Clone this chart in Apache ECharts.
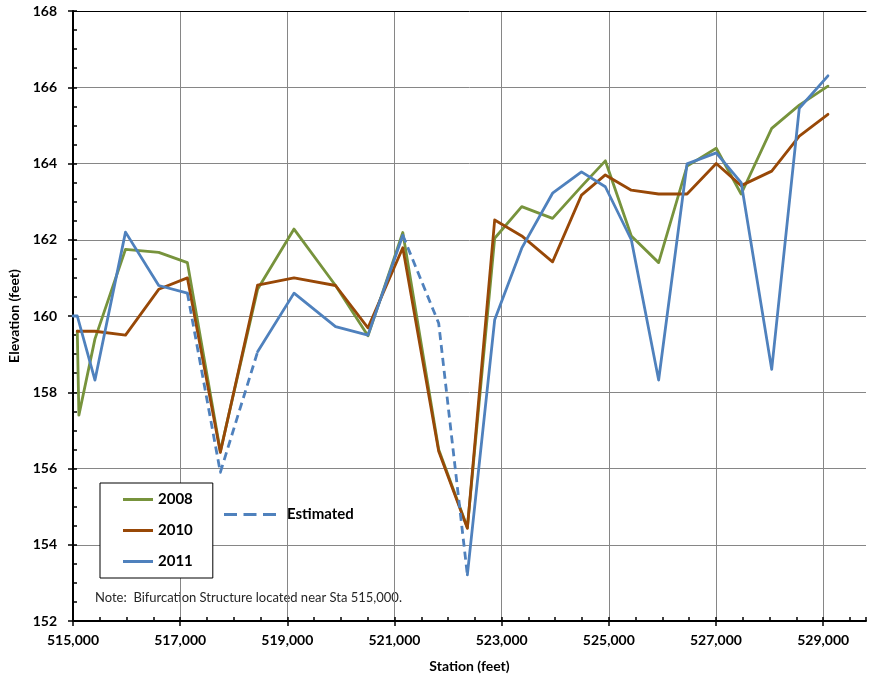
<!DOCTYPE html>
<html>
<head>
<meta charset="utf-8">
<script src="https://cdn.jsdelivr.net/npm/echarts@6/dist/echarts.min.js"></script>
<style>
  html, body { margin: 0; padding: 0; background: #fff; }
  #chart { width: 869px; height: 676px; }
</style>
</head>
<body>
<div id="chart"></div>
<script>
// Channel profile survey: thalweg elevation by station (feet)
const stations2008 = [515080, 515110, 515410, 515980, 516600, 517135, 517750, 518445, 519125, 519900, 520505, 521155, 521825, 522360, 522870, 523375, 523950, 524490, 524935, 525420, 525930, 526460, 527005, 527470, 528040, 528555, 529090];
const elev2008 = [159.6, 157.4, 159.4, 161.75, 161.67, 161.4, 156.45, 160.7, 162.28, 160.8, 159.48, 162.19, 156.5, 154.45, 162.04, 162.87, 162.56, 163.4, 164.07, 162.1, 161.4, 163.93, 164.4, 163.2, 164.92, 165.53, 166.03];

const stations2010 = [515080, 515410, 515980, 516600, 517135, 517750, 518445, 519125, 519900, 520505, 521155, 521825, 522360, 522870, 523375, 523950, 524490, 524935, 525420, 525930, 526460, 527005, 527470, 528040, 528555, 529090];
const elev2010 = [159.6, 159.6, 159.5, 160.7, 161.0, 156.42, 160.81, 161.0, 160.8, 159.69, 161.79, 156.45, 154.43, 162.52, 162.1, 161.42, 163.17, 163.7, 163.3, 163.2, 163.2, 164.0, 163.42, 163.8, 164.72, 165.29];

// 2011 survey: null where the reach was not measured
const stations2011 = [515000, 515080, 515410, 515980, 516600, 517135, 517750, 518445, 519125, 519900, 520505, 521155, 521825, 522360, 522870, 523375, 523950, 524490, 524935, 525420, 525930, 526460, 527005, 527470, 528040, 528555, 529090];
const elev2011 = [160.0, 160.0, 158.32, 162.2, 160.8, 160.6, null, 159.06, 160.6, 159.72, 159.5, 162.12, null, 153.21, 159.9, 161.78, 163.22, 163.78, 163.39, 162.0, 158.32, 163.99, 164.28, 163.5, 158.6, 165.45, 166.3];

// 2011 estimated reaches (null separates the two reaches)
const stationsEst = [517135, 517750, 518445, null, 521155, 521825, 522360];
const elevEst = [160.6, 155.9, 159.06, null, 162.12, 159.81, 153.21];

const xMin = 515000, xMax = 529800, xStep = 2000, xMinorStep = 500;
const yMin = 152, yMax = 168, yStep = 2, yMinorStep = 0.5;

const seriesNames = ['2008', '2010', '2011'];
const estName = 'Estimated';
const noteText = 'Note:  Bifurcation Structure located near Sta 515,000.';

const FONT = 'Lato, "Open Sans", sans-serif';
const C08 = '#77933C', C10 = '#984807', C11 = '#4F81BD';
const GRID = '#868686';
const LW = 2.8;

function pairs(xs, ys) {
  return xs.map((x, i) => (x == null || ys[i] == null) ? [x == null ? '-' : x, '-'] : [x, ys[i]]);
}
const fmtStation = v => Math.round(v).toLocaleString('en-US');

const chart = echarts.init(document.getElementById('chart'), null, { renderer: 'canvas' });

const lineSeries = (name, data, color, extra) => Object.assign({
  name, type: 'line', data,
  xAxisIndex: 0, yAxisIndex: 0,
  showSymbol: false, symbol: 'none',
  connectNulls: false,
  lineStyle: { color, width: LW, cap: 'round', join: 'round' },
  itemStyle: { color },
  emphasis: { disabled: true },
  animation: false
}, extra || {});

chart.setOption({
  backgroundColor: '#fff',
  animation: false,
  grid: { left: 73, top: 11, right: 3, bottom: 55, containLabel: false, outerBoundsMode: 'none' },
  xAxis: [
    {
      type: 'value', position: 'bottom', min: xMin, max: xMax, interval: xStep,
      name: 'Station (feet)', nameLocation: 'middle', nameGap: 38,
      nameTextStyle: { fontFamily: FONT, fontWeight: 'bold', fontSize: 14, color: '#000' },
      axisLine: { show: true, onZero: false, lineStyle: { color: '#000', width: 2 } },
      axisTick: { show: true, inside: false, length: 5, lineStyle: { color: '#000', width: 1.5 } },
      axisLabel: { margin: 12, fontFamily: FONT, fontWeight: 'bold', fontSize: 14, color: '#000',
                   formatter: fmtStation, showMaxLabel: false },
      splitLine: { show: true, showMinLine: false, showMaxLine: false, lineStyle: { color: GRID, width: 1 } }
    },
    {
      type: 'value', position: 'bottom', min: xMin, max: xMax, interval: xMinorStep,
      axisLine: { show: false },
      axisTick: { show: true, inside: true, length: 4, lineStyle: { color: '#000', width: 1.5 } },
      axisLabel: { show: false },
      splitLine: { show: false }
    },
    {
      type: 'value', position: 'top', min: xMin, max: xMax,
      axisLine: { show: true, onZero: false, lineStyle: { color: '#000', width: 1 } },
      axisTick: { show: false }, axisLabel: { show: false }, splitLine: { show: false }
    }
  ],
  yAxis: [
    {
      type: 'value', position: 'left', min: yMin, max: yMax, interval: yStep,
      name: 'Elevation (feet)', nameLocation: 'middle', nameGap: 49, nameRotate: 90,
      nameTextStyle: { fontFamily: FONT, fontWeight: 'bold', fontSize: 14, color: '#000' },
      axisLine: { show: true, onZero: false, lineStyle: { color: '#000', width: 2 } },
      axisTick: { show: true, inside: false, length: 5, lineStyle: { color: '#000', width: 1.5 } },
      axisLabel: { margin: 16, fontFamily: FONT, fontWeight: 'bold', fontSize: 14, color: '#000' },
      splitLine: { show: true, showMinLine: false, showMaxLine: false, lineStyle: { color: GRID, width: 1 } }
    },
    {
      type: 'value', position: 'left', min: yMin, max: yMax, interval: yMinorStep,
      axisLine: { show: false },
      axisTick: { show: true, inside: true, length: 4, lineStyle: { color: '#000', width: 1.5 } },
      axisLabel: { show: false },
      splitLine: { show: false }
    }
  ],
  legend: [
    {
      data: seriesNames,
      orient: 'vertical', left: 100, top: 483,
      padding: [9, 20, 9, 23], itemGap: 16,
      itemWidth: 30, itemHeight: 3, icon: 'rect',
      borderColor: '#000', borderWidth: 1, backgroundColor: '#fff',
      selectedMode: false,
      textStyle: { fontFamily: FONT, fontWeight: 'bold', fontSize: 15, color: '#000' }
    },
    {
      data: [estName],
      orient: 'horizontal', left: 224, top: 507, padding: 0,
      itemWidth: 52, itemHeight: 3,
      icon: 'path://M0,0h13v3h-13z M19.5,0h13v3h-13z M39,0h13v3h-13z',
      selectedMode: false,
      textStyle: { fontFamily: FONT, fontWeight: 'bold', fontSize: 15, color: '#000', padding: [0, 0, 0, 6] }
    }
  ],
  graphic: [
    {
      type: 'text', left: 95, top: 591, silent: true,
      style: { text: noteText, fontFamily: FONT, fontSize: 13, fill: '#262626' }
    }
  ],
  series: [
    lineSeries(seriesNames[0], pairs(stations2008, elev2008), C08, { z: 2 }),
    lineSeries(seriesNames[1], pairs(stations2010, elev2010), C10, { z: 3 }),
    lineSeries(seriesNames[2], pairs(stations2011, elev2011), C11, { z: 4 }),
    lineSeries(estName, pairs(stationsEst, elevEst), C11, {
      z: 4,
      lineStyle: { color: C11, width: LW, type: [8, 5], cap: 'butt', join: 'round' }
    })
  ]
});
</script>
</body>
</html>
